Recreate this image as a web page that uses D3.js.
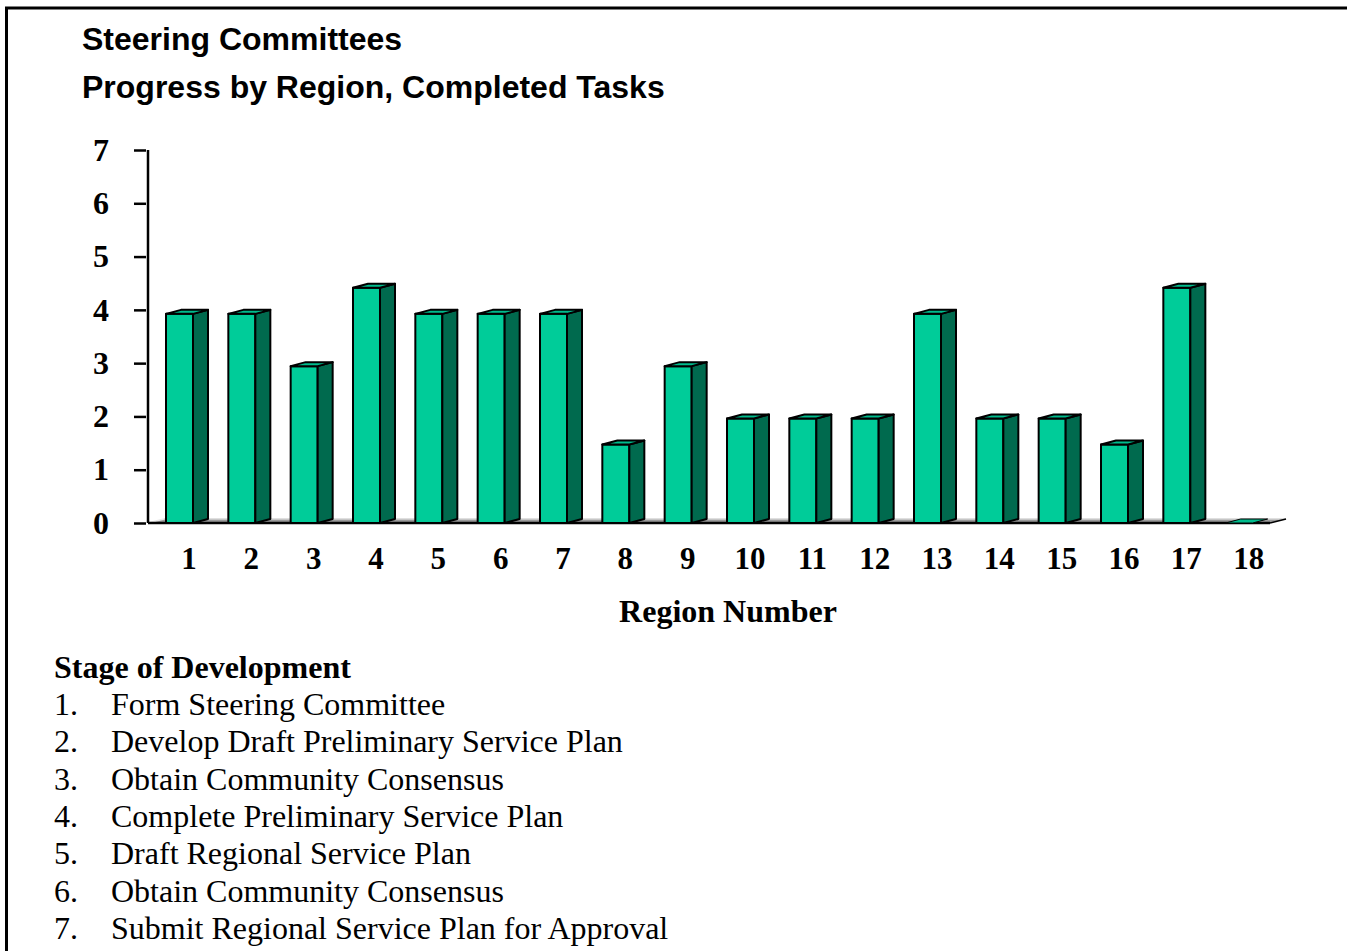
<!DOCTYPE html>
<html>
<head>
<meta charset="utf-8">
<script src="https://cdn.jsdelivr.net/npm/d3@7"></script>
<style>
  body { margin: 0; background: #fff; }
  svg { display: block; }
</style>
</head>
<body>
<div id="chart"></div>
<script>
// chart data
var titleLines = ["Steering Committees", "Progress by Region, Completed Tasks"];
var regions = ["1","2","3","4","5","6","7","8","9","10","11","12","13","14","15","16","17","18"];
var completed = [4, 4, 3, 4.5, 4, 4, 4, 1.5, 3, 2, 2, 2, 4, 2, 2, 1.5, 4.5, 0];
var yTicks = [0, 1, 2, 3, 4, 5, 6, 7];
var xTitle = "Region Number";
var legendTitle = "Stage of Development";
var stages = [
    "Form Steering Committee",
    "Develop Draft Preliminary Service Plan",
    "Obtain Community Consensus",
    "Complete Preliminary Service Plan",
    "Draft Regional Service Plan",
    "Obtain Community Consensus",
    "Submit Regional Service Plan for Approval"
];

var W = 1347, H = 951;
var svg = d3.select("#chart").append("svg")
    .attr("width", W)
    .attr("height", H);

// frame (only left and top edges show)
svg.append("rect")
    .attr("x", 6.5).attr("y", 8)
    .attr("width", W + 20).attr("height", H + 20)
    .attr("fill", "none")
    .attr("stroke", "#000")
    .attr("stroke-width", 3);

// titles
svg.selectAll("text.title")
    .data(titleLines)
    .enter()
    .append("text")
    .attr("class", "title")
    .attr("x", 82)
    .attr("y", function (d, i) { return 50 + i * 48; })
    .style("font-family", "'Liberation Sans', Arial, sans-serif")
    .style("font-weight", "bold")
    .style("font-size", "32px")
    .text(function (d) { return d; });

var x0 = 148, base = 523;
var depthX = 15, depthY = 4;

var x = d3.scaleBand()
    .domain(regions)
    .range([x0, 1270])
    .padding(0);

// axis scale and bar (front plane) scale
var yAxisScale = d3.scaleLinear().domain([0, 7]).range([base, 150]);
var y = d3.scaleLinear().domain([0, 7]).range([base, 157]);

var frontW = 27;
function barLeft(d) { return x(d) + 18; }

// floor
var floorRight = x.range()[1];
svg.append("polygon")
    .attr("points", [
        [x0, base], [floorRight, base],
        [floorRight + depthX + 1, base - depthY], [x0 + depthX + 1, base - depthY]
    ].join(" "))
    .attr("fill", "#9a9a9a")
    .attr("stroke", "none");
svg.append("line")
    .attr("x1", x0 + depthX + 1).attr("x2", floorRight + depthX + 1)
    .attr("y1", base - depthY).attr("y2", base - depthY)
    .attr("stroke", "#d4d4d4").attr("stroke-width", 1.5);
svg.append("line")
    .attr("x1", x0).attr("x2", x0 + depthX + 1)
    .attr("y1", base).attr("y2", base - depthY)
    .attr("stroke", "#e8e8e8").attr("stroke-width", 1.5);
svg.append("line")
    .attr("x1", x0).attr("x2", floorRight)
    .attr("y1", base).attr("y2", base)
    .attr("stroke", "#000").attr("stroke-width", 2.5);
svg.append("line")
    .attr("x1", floorRight).attr("x2", floorRight + depthX + 1)
    .attr("y1", base).attr("y2", base - depthY)
    .attr("stroke", "#000").attr("stroke-width", 1.5);

var data = regions.map(function (r, i) { return { region: r, value: completed[i] }; });

var bars = svg.selectAll("g.bar")
    .data(data)
    .enter()
    .append("g")
    .attr("class", "bar");

// front faces
bars.filter(function (d) { return d.value > 0; })
    .append("rect")
    .attr("x", function (d) { return barLeft(d.region); })
    .attr("y", function (d) { return y(d.value); })
    .attr("width", frontW)
    .attr("height", function (d) { return y(0) - y(d.value); })
    .attr("fill", "#00cc99")
    .attr("stroke", "#000")
    .attr("stroke-width", 2)
    .attr("stroke-linejoin", "round");

// side faces
bars.filter(function (d) { return d.value > 0; })
    .append("polygon")
    .attr("points", function (d) {
        var xr = barLeft(d.region) + frontW, yt = y(d.value), yb = y(0);
        return [[xr, yt], [xr + depthX, yt - depthY], [xr + depthX, yb - depthY], [xr, yb]].join(" ");
    })
    .attr("fill", "#006a4e")
    .attr("stroke", "#000")
    .attr("stroke-width", 2)
    .attr("stroke-linejoin", "round");

// top faces
bars.append("polygon")
    .attr("points", function (d) {
        var xl = barLeft(d.region), xr = xl + frontW, yt = y(d.value);
        return [[xl, yt], [xl + depthX, yt - depthY], [xr + depthX, yt - depthY], [xr, yt]].join(" ");
    })
    .attr("fill", "#00bb8c")
    .attr("stroke", "#000")
    .attr("stroke-width", function (d) { return d.value > 0 ? 2 : 1; })
    .attr("stroke-linejoin", "round");

// y axis
var yAxis = svg.append("g")
    .attr("transform", "translate(" + x0 + ",0)")
    .call(d3.axisLeft(yAxisScale).tickValues(yTicks).tickFormat(d3.format("d"))
        .tickSize(14).tickPadding(25));
yAxis.select(".domain")
    .attr("d", "M0," + yAxisScale(7) + "V" + base)
    .attr("stroke-width", 2.5);
yAxis.selectAll(".tick line")
    .attr("x1", -2)
    .attr("stroke-width", 2.5);
yAxis.selectAll(".tick text")
    .style("font-family", "'Liberation Serif', 'Times New Roman', serif")
    .style("font-weight", "bold")
    .style("font-size", "32px")
    .attr("fill", "#000");

// x labels
svg.selectAll("text.xlab")
    .data(regions)
    .enter()
    .append("text")
    .attr("class", "xlab")
    .attr("x", function (d) { return barLeft(d) + 23; })
    .attr("y", 569)
    .attr("text-anchor", "middle")
    .style("font-family", "'Liberation Serif', 'Times New Roman', serif")
    .style("font-weight", "bold")
    .style("font-size", "31px")
    .text(function (d) { return d; });

svg.append("text")
    .attr("x", 728)
    .attr("y", 622)
    .attr("text-anchor", "middle")
    .style("font-family", "'Liberation Serif', 'Times New Roman', serif")
    .style("font-weight", "bold")
    .style("font-size", "32px")
    .text(xTitle);

// legend
svg.append("text")
    .attr("x", 54)
    .attr("y", 678)
    .style("font-family", "'Liberation Serif', 'Times New Roman', serif")
    .style("font-weight", "bold")
    .style("font-size", "32px")
    .text(legendTitle);

var items = svg.selectAll("g.stage")
    .data(stages)
    .enter()
    .append("g")
    .attr("class", "stage")
    .attr("transform", function (d, i) { return "translate(0," + (715 + i * 37.3) + ")"; })
    .style("font-family", "'Liberation Serif', 'Times New Roman', serif")
    .style("font-size", "32px");
items.append("text")
    .attr("x", 54)
    .text(function (d, i) { return (i + 1) + "."; });
items.append("text")
    .attr("x", 111)
    .text(function (d) { return d; });
</script>
</body>
</html>
